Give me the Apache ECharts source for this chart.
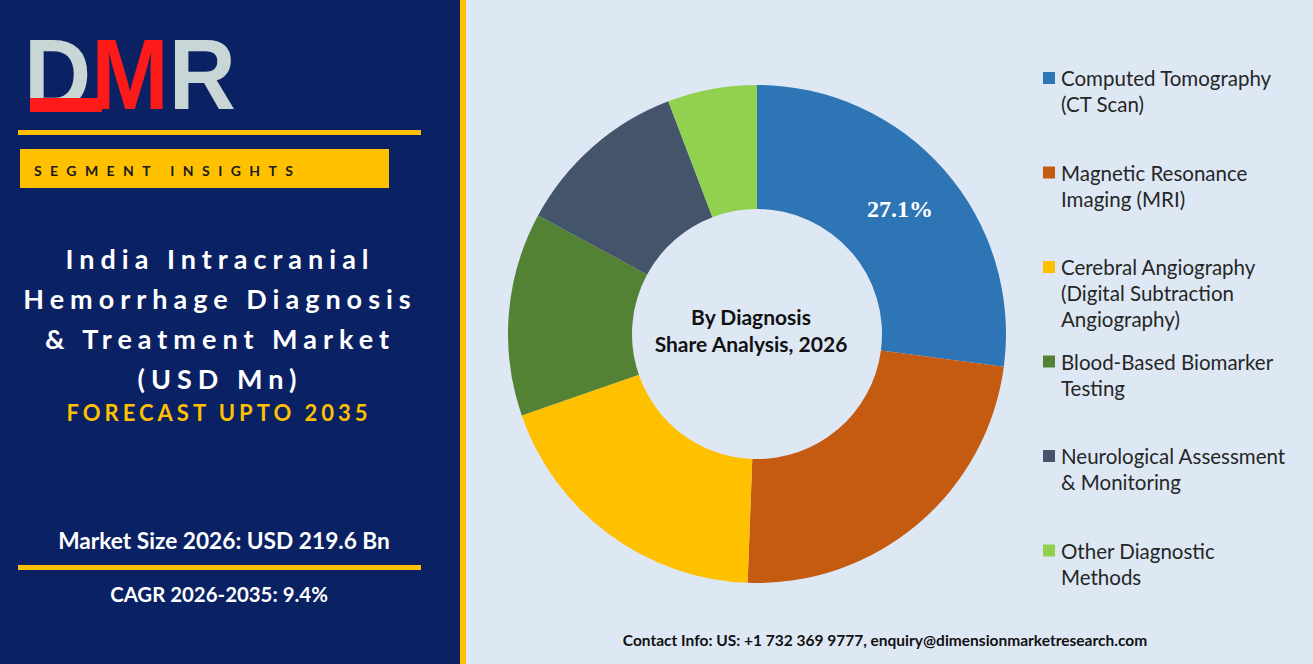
<!DOCTYPE html>
<html><head><meta charset="utf-8">
<script src="https://cdn.jsdelivr.net/npm/echarts@6/dist/echarts.min.js"></script>
<style>html,body{margin:0;padding:0;background:#dde8f4;}#c{width:1313px;height:664px;}</style>
</head><body><div id="c"></div>
<script>
// ---- data ----
const categories = [
  "Computed Tomography (CT Scan)",
  "Magnetic Resonance Imaging (MRI)",
  "Cerebral Angiography (Digital Subtraction Angiography)",
  "Blood-Based Biomarker Testing",
  "Neurological Assessment & Monitoring",
  "Other Diagnostic Methods"
];
const legendLines = [
  ["Computed Tomography", "(CT Scan)"],
  ["Magnetic Resonance", "Imaging (MRI)"],
  ["Cerebral Angiography", "(Digital Subtraction", "Angiography)"],
  ["Blood-Based Biomarker", "Testing"],
  ["Neurological Assessment", "& Monitoring"],
  ["Other Diagnostic", "Methods"]
];
const shares = [27.1, 23.5, 19.1, 13.2, 11.3, 5.8];
const colors = ["#2e75b6", "#c55a11", "#ffc000", "#548235", "#44546a", "#92d050"];
const labelledIndex = 0;
const titleLines = ["India Intracranial", "Hemorrhage Diagnosis", "& Treatment Market", "(USD Mn)"];
const forecastText = "FORECAST UPTO 2035";
const segmentText = "SEGMENT INSIGHTS";
const marketSizeText = "Market Size 2026: USD 219.6 Bn";
const cagrText = "CAGR 2026-2035: 9.4%";
const centerLines = ["By Diagnosis", "Share Analysis, 2026"];
const contactText = "Contact Info: US: +1 732 369 9777, enquiry@dimensionmarketresearch.com";

// ---- style ----
const NAVY = "#0a2163";
const YELLOW = "#ffc000";
const SANS = "Lato, 'Open Sans', sans-serif";

const chart = echarts.init(document.getElementById('c'), null, {renderer: 'svg'});

const graphics = [];
graphics.push({type: 'rect', shape: {x: 0, y: 0, width: 460, height: 664}, style: {fill: NAVY}, z: 0});
graphics.push({type: 'rect', shape: {x: 460, y: 0, width: 6, height: 664}, style: {fill: YELLOW}, z: 0});
// logo (single rich text)
graphics.push({type: 'text', x: 24, y: 124, scaleX: 0.93,
  style: {text: '{d|D}{m|M}{r|R}', font: "bold 100px 'Liberation Sans'", textVerticalAlign: 'bottom',
    rich: {
      d: {fill: '#c9d6d6', font: "bold 100px 'Liberation Sans'"},
      m: {fill: '#ff1a1a', font: "bold 100px 'Liberation Sans'"},
      r: {fill: '#c9d6d6', font: "bold 100px 'Liberation Sans'"}
    }}, z: 2});
graphics.push({type: 'rect', shape: {x: 30, y: 98, width: 72, height: 14}, style: {fill: '#ff1a1a'}, z: 3});
// yellow line and box
graphics.push({type: 'rect', shape: {x: 18, y: 130, width: 403, height: 5}, style: {fill: YELLOW}, z: 1});
graphics.push({type: 'rect', shape: {x: 20, y: 149, width: 369, height: 39}, style: {fill: YELLOW}, z: 1});
graphics.push({type: 'text', x: 34, y: 170, style: {text: segmentText, fill: '#1a1a1a', font: "bold 14px " + SANS, textVerticalAlign: 'middle'}, z: 2});
// title
titleLines.forEach((t, i) => {
  graphics.push({type: 'text', x: 220, y: 258 + i * 40, style: {text: t, fill: '#ffffff', font: "bold 27px " + SANS, textAlign: 'center', textVerticalAlign: 'middle'}, z: 2});
});
graphics.push({type: 'text', x: 219, y: 412, style: {text: forecastText, fill: YELLOW, font: "bold 22px " + SANS, textAlign: 'center', textVerticalAlign: 'middle'}, z: 2});
graphics.push({type: 'text', x: 224, y: 540, style: {text: marketSizeText, fill: '#ffffff', font: "bold 22.7px " + SANS, textAlign: 'center', textVerticalAlign: 'middle'}, z: 2});
graphics.push({type: 'rect', shape: {x: 18, y: 565, width: 403, height: 5}, style: {fill: YELLOW}, z: 1});
graphics.push({type: 'text', x: 219, y: 594, style: {text: cagrText, fill: '#ffffff', font: "bold 20.4px " + SANS, textAlign: 'center', textVerticalAlign: 'middle'}, z: 2});
// center text
graphics.push({type: 'text', x: 751, y: 330, style: {text: centerLines.join('\n'), fill: '#111111', font: "bold 21px " + SANS, lineHeight: 27, textAlign: 'center', textVerticalAlign: 'middle'}, z: 5});
// legend
legendLines.forEach((lines, i) => {
  const yc = 78 + i * 94.5;
  graphics.push({type: 'rect', shape: {x: 1043, y: yc - 6, width: 12, height: 12}, style: {fill: colors[i]}, z: 2});
  graphics.push({type: 'text', x: 1061, y: yc - 13, style: {text: lines.join('\n'), fill: '#262626', font: "20.5px " + SANS, lineHeight: 26, textVerticalAlign: 'top'}, z: 2});
});
graphics.push({type: 'text', x: 885, y: 640, style: {text: contactText, fill: '#111111', font: "bold 15.5px " + SANS, textAlign: 'center', textVerticalAlign: 'middle'}, z: 2});

chart.setOption({
  backgroundColor: '#dde8f4',
  animation: false,
  graphic: {elements: graphics},
  series: [{
    type: 'pie',
    center: [757, 334],
    radius: [125, 249],
    startAngle: 90,
    clockwise: true,
    silent: true,
    avoidLabelOverlap: false,
    emphasis: {disabled: true},
    labelLine: {show: false},
    label: {
      position: 'inside',
      formatter: p => p.value.toFixed(1) + '%',
      color: '#ffffff',
      fontFamily: "'Liberation Serif', serif",
      fontWeight: 'bold',
      fontSize: 24
    },
    data: categories.map((n, i) => ({
      name: n,
      value: shares[i],
      itemStyle: {color: colors[i]},
      label: {show: i === labelledIndex}
    }))
  }]
});

// letter spacing for spaced headline texts
const spacing = {};
spacing[segmentText] = 8.4;
titleLines.forEach(t => spacing[t] = 6);
spacing[forecastText] = 4;
document.querySelectorAll('#c svg text').forEach(el => {
  const t = el.textContent;
  if (spacing[t] !== undefined) el.style.letterSpacing = spacing[t] + 'px';
});
</script>
</body></html>
